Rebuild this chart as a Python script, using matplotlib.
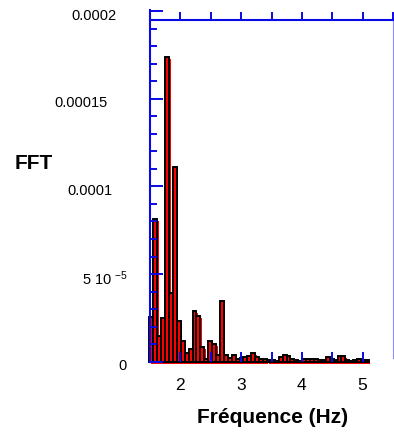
"""
FFT spectrum bar chart, blue frame with ticks, red/black bars.
"""
import matplotlib
matplotlib.use("Agg")
import matplotlib.pyplot as plt
import matplotlib.patheffects as pe
from matplotlib.ticker import MultipleLocator
from matplotlib.transforms import ScaledTranslation

# frequency bins (Hz) and FFT amplitude (units of 1e-6)
freq = [1.523, 1.587, 1.652, 1.716, 1.781, 1.845, 1.910, 1.974, 2.039, 2.103,
        2.168, 2.232, 2.297, 2.361, 2.426, 2.490, 2.555, 2.619, 2.684, 2.748,
        2.813, 2.877, 2.942, 3.006, 3.071, 3.135, 3.200, 3.264, 3.329, 3.393,
        3.458, 3.522, 3.587, 3.651, 3.716, 3.780, 3.845, 3.909, 3.974, 4.038,
        4.103, 4.167, 4.232, 4.296, 4.361, 4.425, 4.490, 4.554, 4.619, 4.683,
        4.748, 4.812, 4.877, 4.941, 5.006, 5.070]
fft_e6 = [25.6, 81.4, 14.6, 24.7, 174.0, 39.0, 111.0, 23.3, 11.9, 5.0,
          7.0, 29.0, 26.0, 8.5, 1.5, 11.9, 10.0, 3.8, 34.6, 3.8,
          2.0, 4.1, 1.4, 1.9, 2.8, 3.1, 5.0, 2.7, 1.8, 1.8,
          1.2, 1.2, 0.3, 2.7, 4.1, 3.0, 1.8, 0.8, 0.6, 1.5,
          1.8, 1.4, 1.4, 0.8, 0.8, 2.5, 1.4, 0.8, 3.0, 3.0,
          1.0, 0.6, 0.8, 1.8, 1.0, 0.8]
bin_width = 0.0645

yticks = [0, 5e-5, 1e-4, 1.5e-4, 2e-4]
ylabels = ["0", r"5 10 $^{-5}$", "0.0001", "0.00015", "0.0002"]
ylabel_dx = [10, 11, -4, -9, 0]      # small per-label nudges (px)
xticks = [2, 2.5, 3, 3.5, 4, 4.5, 5]
xlabels = ["2", "", "3", "", "4", "", "5"]
top_ticks = [1.5, 2, 2.5, 3, 3.5, 4, 4.5, 5, 5.5]

plt.rcParams['font.family'] = ['Liberation Sans', 'DejaVu Sans']
plt.rcParams['mathtext.fontset'] = 'custom'
plt.rcParams['mathtext.rm'] = 'Liberation Sans'
plt.rcParams['mathtext.it'] = 'Liberation Sans:italic'

BLUE = '#0a0ae6'

W, H = 394, 434
fig = plt.figure(figsize=(W / 100, H / 100), dpi=100)
ax = fig.add_axes([150 / W, 1 - 361.7 / H, 243 / W, (361.7 - 10) / H])

ax.bar(freq, [v * 1e-6 for v in fft_e6], width=bin_width, color='red',
       edgecolor='black', linewidth=1.4, clip_on=False,
       path_effects=[pe.SimplePatchShadow(offset=(1.1, -1.4), shadow_rgbFace='red', alpha=1),
                     pe.Normal()])

ax.set_xlim(1.5, 5.5)
ax.set_ylim(0, 2.006e-4)

for s in ('top', 'bottom'):
    ax.spines[s].set_visible(False)
ax.spines['left'].set_color(BLUE)
ax.spines['left'].set_linewidth(1.5)
ax.spines['right'].set_color('#8c8cff')
ax.spines['right'].set_linewidth(0.8)
ax.spines['right'].set_bounds(2e-6, 1.95e-4)

ax.yaxis.set_ticks_position('left')
ax.set_yticks(yticks)
ax.set_yticklabels([])
ax.yaxis.set_minor_locator(MultipleLocator(1e-5))
ax.tick_params(axis='y', which='major', direction='in', length=9.4, width=1.4, color=BLUE)
ax.tick_params(axis='y', which='minor', direction='in', length=5, width=1.4, color=BLUE)

ax.set_xticks(xticks, xlabels)
ax.tick_params(axis='x', which='major', direction='in', length=7, width=1.4, color=BLUE,
               pad=12, labelsize=12.5)

# y labels, right-aligned left of the axis, nudged a little down
for val, txt, dx in zip(yticks, ylabels, ylabel_dx):
    off = ScaledTranslation((dx - 33) / 100, -4.5 / 100, fig.dpi_scale_trans)
    ax.text(0, val, txt, transform=ax.get_yaxis_transform() + off,
            ha='right', va='center', fontsize=10.5)

# top frame line with outward ticks (own axes, same x range)
top = fig.add_axes([150 / W, 1 - 19.8 / H, 243 / W, 1e-4])
top.set_xlim(1.5, 5.5)
top.patch.set_visible(False)
for s in ('left', 'right', 'bottom'):
    top.spines[s].set_visible(False)
top.spines['top'].set_color(BLUE)
top.spines['top'].set_linewidth(1.5)
top.set_yticks([])
top.xaxis.set_ticks_position('top')
top.set_xticks(top_ticks)
top.tick_params(axis='x', direction='out', length=5.8, width=1.4, color=BLUE,
                labeltop=False, labelbottom=False)

fig.text(15 / W, 1 - 163.5 / H, "FFT", fontsize=15, fontweight='bold',
         ha='left', va='center')
fig.text(272.5 / W, 1 - 417.5 / H, "Fréquence (Hz)", fontsize=15, fontweight='bold',
         ha='center', va='center')

fig.savefig("out.png", dpi=100)
